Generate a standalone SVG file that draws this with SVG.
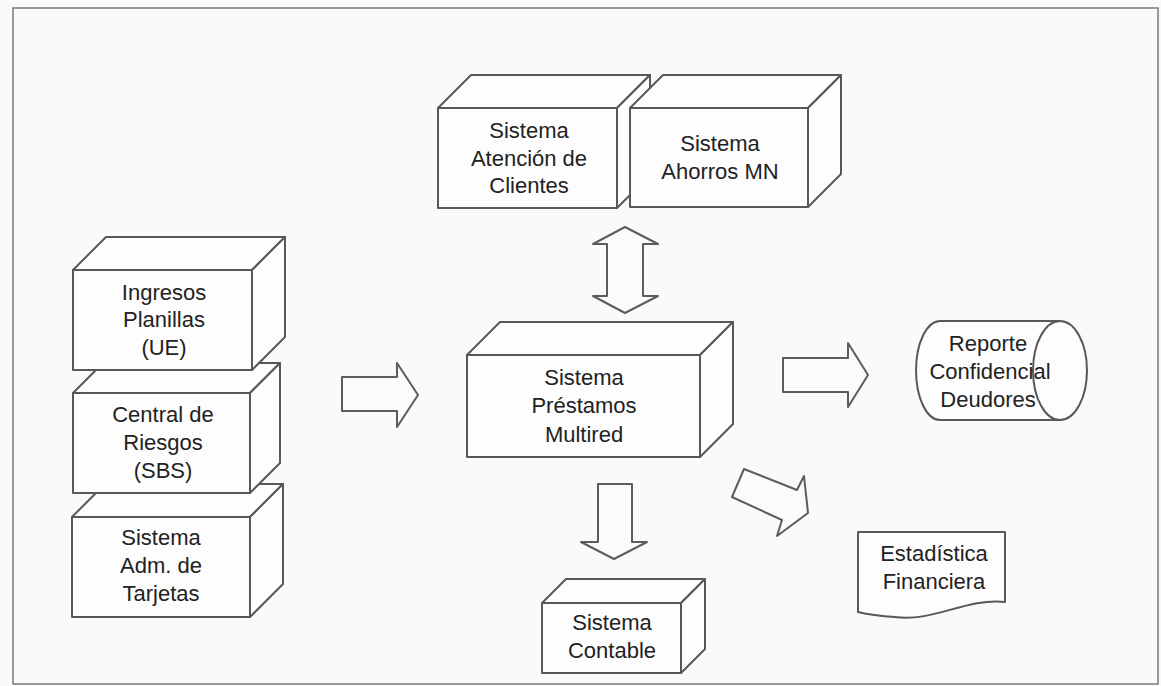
<svg xmlns="http://www.w3.org/2000/svg" width="1161" height="686" viewBox="0 0 1161 686">
  <style>
    .edge { fill: #fdfdfd; stroke: #585858; stroke-width: 2; stroke-linejoin: round; }
    .flow { fill: #fbfbfb; stroke: #5c5c5c; stroke-width: 2; stroke-linejoin: round; }
    .lbl { font-family: "Liberation Sans", Arial, sans-serif; font-size: 22px; fill: #222; text-anchor: middle; }
  </style>

  <!-- page background and border -->
  <rect x="0" y="0" width="1161" height="686" fill="#fafafa"/>
  <rect x="13" y="8" width="1145" height="676" fill="none" stroke="#7a7a7a" stroke-width="1.5"/>

  <!-- left input stack: drawn bottom-up so upper boxes overlap lower ones -->
  <g id="node-adm-tarjetas">
    <polygon class="edge" points="72,517 105,484 283,484 250,517"/>
    <polygon class="edge" points="250,517 283,484 283,584 250,617"/>
    <rect class="edge" x="72" y="517" width="178" height="100"/>
    <text class="lbl" x="161" y="545">Sistema</text>
    <text class="lbl" x="161" y="573">Adm. de</text>
    <text class="lbl" x="161" y="601">Tarjetas</text>
  </g>

  <g id="node-central-riesgos">
    <polygon class="edge" points="73,393 103,363 280,363 250,393"/>
    <polygon class="edge" points="250,393 280,363 280,463 250,493"/>
    <rect class="edge" x="73" y="393" width="177" height="100"/>
    <text class="lbl" x="163" y="422">Central de</text>
    <text class="lbl" x="163" y="450">Riesgos</text>
    <text class="lbl" x="163" y="478">(SBS)</text>
  </g>

  <g id="node-ingresos-planillas">
    <polygon class="edge" points="73,270 106,237 285,237 252,270"/>
    <polygon class="edge" points="252,270 285,237 285,337 252,370"/>
    <rect class="edge" x="73" y="270" width="179" height="100"/>
    <text class="lbl" x="164" y="300">Ingresos</text>
    <text class="lbl" x="164" y="327">Planillas</text>
    <text class="lbl" x="164" y="355">(UE)</text>
  </g>

  <!-- upper pair of systems -->
  <g id="node-atencion-clientes">
    <polygon class="edge" points="438,108 471,75 650,75 617,108"/>
    <polygon class="edge" points="617,108 650,75 650,175 617,208"/>
    <rect class="edge" x="438" y="108" width="179" height="100"/>
    <text class="lbl" x="529" y="138">Sistema</text>
    <text class="lbl" x="529" y="166">Atención de</text>
    <text class="lbl" x="529" y="193">Clientes</text>
  </g>

  <g id="node-ahorros-mn">
    <polygon class="edge" points="630,108 663,75 841,75 808,108"/>
    <polygon class="edge" points="808,108 841,75 841,174 808,207"/>
    <rect class="edge" x="630" y="108" width="178" height="99"/>
    <text class="lbl" x="720" y="151">Sistema</text>
    <text class="lbl" x="720" y="179">Ahorros MN</text>
  </g>

  <!-- central system -->
  <g id="node-prestamos-multired">
    <polygon class="edge" points="467,355 500,322 733,322 700,355"/>
    <polygon class="edge" points="700,355 733,322 733,424 700,457"/>
    <rect class="edge" x="467" y="355" width="233" height="102"/>
    <text class="lbl" x="584" y="385">Sistema</text>
    <text class="lbl" x="584" y="413">Préstamos</text>
    <text class="lbl" x="584" y="442">Multired</text>
  </g>

  <!-- accounting system -->
  <g id="node-contable">
    <polygon class="edge" points="542,603 566,579 705,579 681,603"/>
    <polygon class="edge" points="681,603 705,579 705,649 681,673"/>
    <rect class="edge" x="542" y="603" width="139" height="70"/>
    <text class="lbl" x="612" y="630">Sistema</text>
    <text class="lbl" x="612" y="658">Contable</text>
  </g>

  <!-- stored report (direct-access storage symbol) -->
  <g id="node-reporte">
    <path class="edge" d="M940,321 L1060,321 A27,49.5 0 0 1 1060,420 L940,420 A24,49.5 0 0 1 940,321 Z"/>
    <path class="edge" fill="none" d="M1060,321 A27,49.5 0 0 0 1060,420"/>
    <text class="lbl" x="988" y="351">Reporte</text>
    <text class="lbl" x="990" y="379">Confidencial</text>
    <text class="lbl" x="988" y="407">Deudores</text>
  </g>

  <!-- printed document -->
  <g id="node-estadistica">
    <path class="edge" d="M858,532 L1005,532 L1005,602 C965,598 935,622 895,617 C878,616 866,614 858,612 Z"/>
    <text class="lbl" x="934" y="561">Estadística</text>
    <text class="lbl" x="934" y="589">Financiera</text>
  </g>

  <!-- block arrows between systems -->
  <g id="connectors">
    <polygon class="flow" points="342,377 397,377 397,363 418,395 397,427 397,411 342,411"/>
    <polygon class="flow" points="625,227 658,244 643,244 643,296 658,296 625,313 593,296 607,296 607,244 593,244"/>
    <polygon class="flow" points="783,358 848,358 848,343 868,375 848,407 848,392 783,392"/>
    <polygon class="flow" points="598,484 632,484 632,542 647,542 614,559 581,542 598,542"/>
    <polygon class="flow" points="744,469 797,490 804,476 808,513 777,536 782,520 732,497"/>
  </g>
</svg>
